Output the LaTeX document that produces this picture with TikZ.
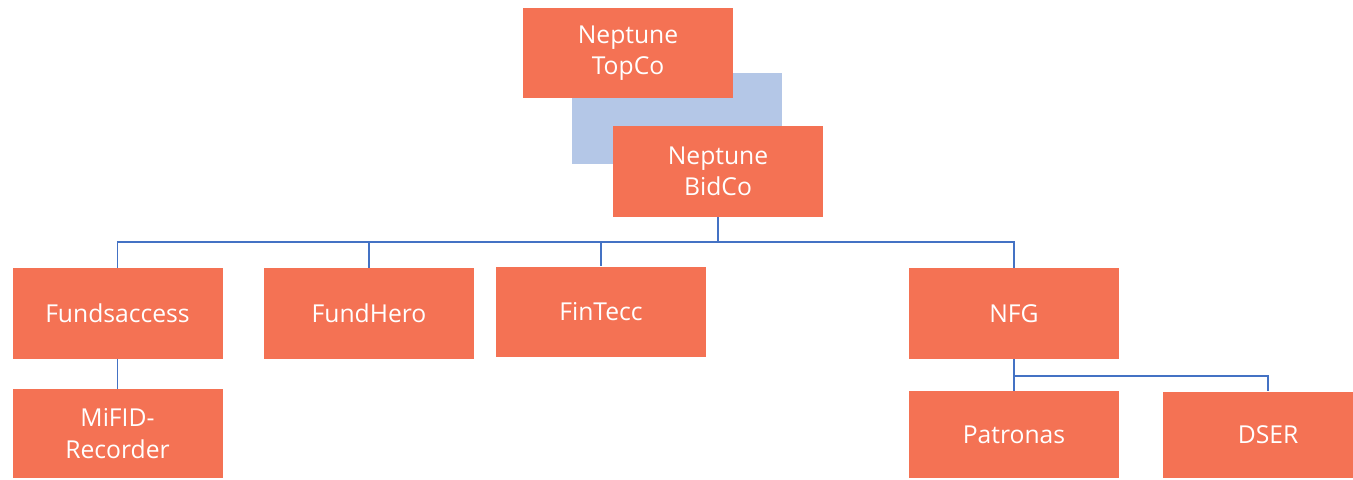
\documentclass[tikz,border=0pt]{standalone}
\usepackage{fontspec}
\setmainfont{Open Sans}
\usetikzlibrary{positioning}
\definecolor{boxorange}{HTML}{F47254}
\definecolor{boxblue}{HTML}{B4C7E7}
\definecolor{linkblue}{HTML}{4472C4}

\begin{document}
\begin{tikzpicture}[x=0.75pt, y=-0.75pt,
    company/.style={rectangle, fill=boxorange, text=white, align=center,
                    minimum width=157.5pt, minimum height=68pt, inner sep=0pt,
                    font=\fontsize{18.5}{23.5}\selectfont},
    link/.style={draw=linkblue, line width=0.9pt}]
  \useasboundingbox (0,0) rectangle (1353,479);

  \node[rectangle, fill=boxblue, minimum width=157.5pt, minimum height=68pt]
                             (backdrop) at (677,118.5) {};
  \node[company]             (topco)    at (628,53)    {Neptune\\TopCo};
  \node[company]             (bidco)    at (718,171.5) {Neptune\\BidCo};

  \node[company]             (funds)    at (117.5,313.5) {Fundsaccess};
  \node[company]             (fundhero) at (369,313.5)   {FundHero};
  \node[company]             (fintecc)  at (601,312)     {FinTecc};
  \node[company]             (nfg)      at (1014,313.5)  {NFG};

  \node[company, minimum height=67pt] (mifid)    at (117.5,433.5) {MiFID-\\Recorder};
  \node[company, minimum height=65pt] (patronas) at (1014,434.5)  {Patronas};
  \node[company, minimum height=65pt] (dser)     at (1268,435)    {DSER};

  \coordinate (bus)    at (718,242);
  \coordinate (nfgbus) at (1014,376);

  \draw[link] (bidco.south) -- (bus)
              (bus) -| (funds.north)
              (bus) -| (fundhero.north)
              (bus) -| (fintecc.north)
              (bus) -| (nfg.north);
  \draw[link] (funds.south) -- (mifid.north);
  \draw[link] (nfg.south) -- (patronas.north)
              (nfgbus) -| (dser.north);
\end{tikzpicture}
\end{document}
